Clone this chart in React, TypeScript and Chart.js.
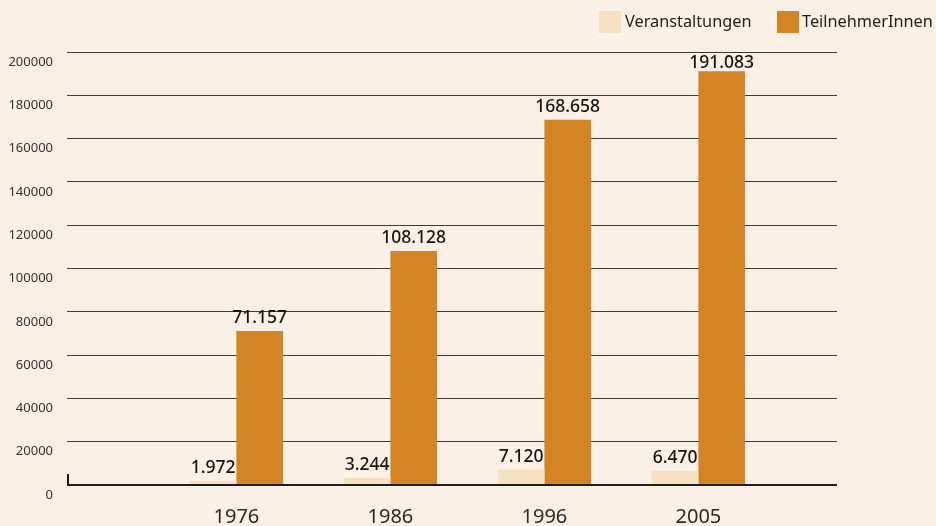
import React, { useEffect, useRef } from "react";
import { Chart, registerables } from "chart.js";

Chart.register(...registerables);

const years = ["1976", "1986", "1996", "2005"];
const yearPositions = [1, 2, 3, 4];
const veranstaltungen = [1972, 3244, 7120, 6470];
const teilnehmer = [71157, 108128, 168658, 191083];
const seriesNames = ["Veranstaltungen", "TeilnehmerInnen"];

const BG = "#FBF0E5";
const LIGHT = "#F6E0C2";
const ORANGE = "#D38526";
const FONT = "'Noto Sans', 'Open Sans', sans-serif";

const fmt = (v: number) => String(v).replace(/\B(?=(\d{3})+(?!\d))/g, ".");

const valueLabels = {
  id: "valueLabels",
  afterDatasetsDraw(chart: any) {
    const ctx = chart.ctx;
    const top = chart.chartArea.top;
    ctx.save();
    ctx.font = `500 17.5px ${FONT}`;
    ctx.fillStyle = "#151515";
    ctx.textAlign = "center";
    ctx.textBaseline = "alphabetic";
    chart.data.datasets.forEach((ds: any, di: number) => {
      const meta = chart.getDatasetMeta(di);
      meta.data.forEach((el: any, i: number) => {
        const v = ds.data[i].y;
        ctx.fillText(fmt(v), el.x, Math.max(el.y - 8, top + 16));
      });
    });
    ctx.restore();
  },
  afterDraw(chart: any) {
    const ctx = chart.ctx;
    const y0 = chart.scales.y.getPixelForValue(0);
    const left = chart.chartArea.left;
    ctx.save();
    ctx.strokeStyle = "#1e1e1e";
    ctx.lineWidth = 2;
    ctx.beginPath();
    ctx.moveTo(left + 1, y0);
    ctx.lineTo(left + 1, y0 - 11);
    ctx.stroke();
    ctx.restore();
  },
};

export default function App() {
  const ref = useRef<HTMLCanvasElement | null>(null);
  useEffect(() => {
    if (!ref.current) return;
    const chart = new Chart(ref.current, {
      type: "bar",
      data: {
        datasets: [
          {
            label: seriesNames[0],
            data: yearPositions.map((x, i) => ({ x, y: veranstaltungen[i] })),
            backgroundColor: LIGHT,
            borderWidth: 0,
          },
          {
            label: seriesNames[1],
            data: yearPositions.map((x, i) => ({ x, y: teilnehmer[i] })),
            backgroundColor: ORANGE,
            borderWidth: 0,
          },
        ],
      },
      plugins: [valueLabels],
      options: {
        animation: false,
        responsive: false,
        layout: { padding: { top: 52, right: 99, left: 0, bottom: 0 } },
        datasets: { bar: { categoryPercentage: 0.605, barPercentage: 1.0 } },
        plugins: { legend: { display: false }, tooltip: { enabled: false } },
        scales: {
          x: {
            type: "linear",
            offset: false,
            min: -0.1,
            max: 4.9,
            afterBuildTicks: (scale: any) => {
              scale.ticks = yearPositions.map((v) => ({ value: v }));
            },
            afterFit: (scale: any) => {
              scale.height = 41;
            },
            grid: { display: false, drawTicks: false },
            border: { display: false },
            ticks: {
              autoSkip: false,
              maxRotation: 0,
              padding: 20,
              color: "#2a2a2a",
              font: { family: FONT, size: 20 },
              callback: (v: any) => {
                const idx = yearPositions.indexOf(Number(v));
                return idx >= 0 ? years[idx] : "";
              },
            },
          },
          y: {
            min: 0,
            max: 200000,
            afterFit: (scale: any) => {
              scale.width = 67;
            },
            grid: {
              drawTicks: false,
              color: (c: any) => (c.tick && c.tick.value === 0 ? "#1e1e1e" : "#3a3a3a"),
              lineWidth: (c: any) => (c.tick && c.tick.value === 0 ? 2 : 1),
            },
            border: { display: false },
            ticks: {
              stepSize: 20000,
              padding: 14,
              labelOffset: 10,
              color: "#333",
              font: { family: FONT, size: 13 },
              callback: (v: any) => String(v),
            },
          },
        },
      },
    } as any);
    return () => chart.destroy();
  }, []);

  const textStyle: React.CSSProperties = {
    position: "absolute",
    top: 10,
    fontFamily: FONT,
    fontSize: 16.3,
    lineHeight: "22px",
    color: "#222",
    whiteSpace: "nowrap",
  };
  const boxStyle: React.CSSProperties = { position: "absolute", top: 11, width: 22, height: 22 };

  return (
    <div style={{ position: "fixed", left: 0, top: 0, width: 936, height: 526, background: BG }}>
      <canvas ref={ref} width={936} height={526} style={{ position: "absolute", left: 0, top: 0 }} />
      <div style={{ ...boxStyle, left: 599, background: LIGHT }} />
      <span style={{ ...textStyle, left: 625 }}>{seriesNames[0]}</span>
      <div style={{ ...boxStyle, left: 777, background: ORANGE }} />
      <span style={{ ...textStyle, left: 802 }}>{seriesNames[1]}</span>
    </div>
  );
}
